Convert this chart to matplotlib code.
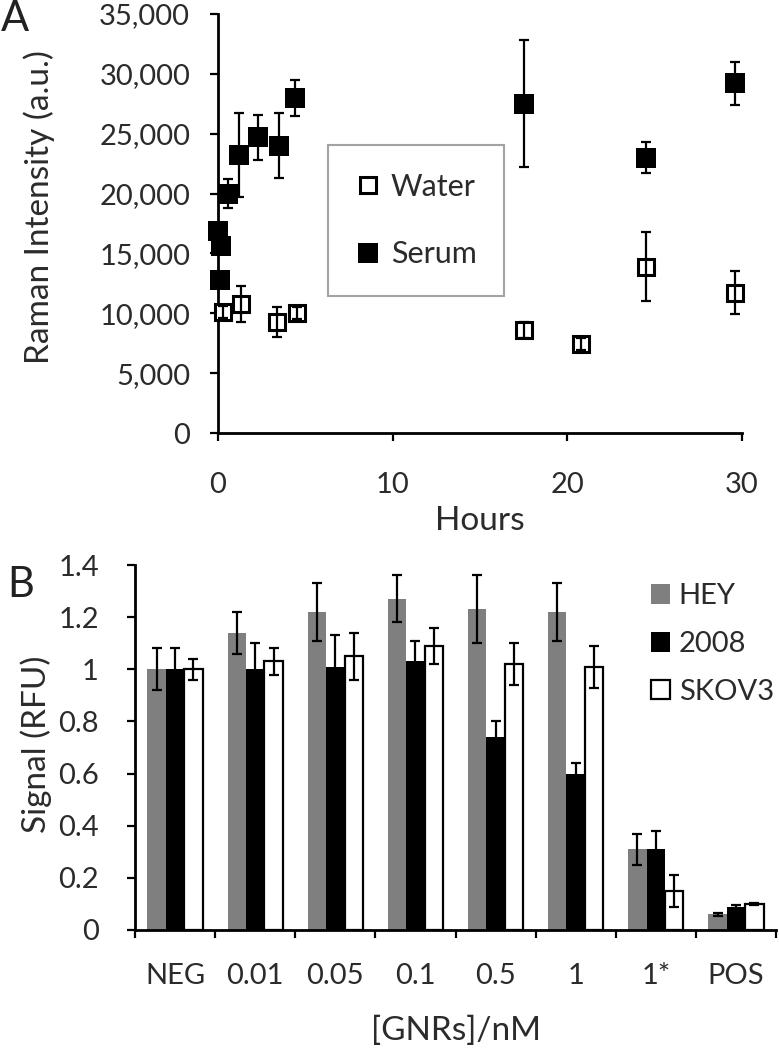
import matplotlib

matplotlib.use("Agg")

import matplotlib.pyplot as plt
import numpy as np
from matplotlib.lines import Line2D
from matplotlib.patches import Patch
from matplotlib.ticker import FuncFormatter, FixedLocator

plt.rcParams["font.family"] = ["Lato", "DejaVu Sans"]

# panel A: Raman intensity over time
serum_hours = [0.0, 0.1, 0.15, 0.6, 1.2, 2.3, 3.5, 4.4, 17.5, 24.5, 29.6]
serum_values = [16900, 12800, 15600, 20000, 23200, 24700, 24000, 28000, 27500, 23000, 29200]
serum_err = [600, 600, 600, 1200, 3500, 1900, 2700, 1500, 5300, 1300, 1800]

water_hours = [0.3, 1.3, 3.4, 4.5, 17.5, 20.8, 24.5, 29.6]
water_values = [10100, 10800, 9300, 10000, 8600, 7400, 13900, 11700]
water_err = [500, 1500, 1250, 500, 700, 500, 2900, 1800]

# panel B: signal per GNR concentration
categories = ["NEG", "0.01", "0.05", "0.1", "0.5", "1", "1*", "POS"]
hey = [1.00, 1.14, 1.22, 1.27, 1.23, 1.22, 0.31, 0.06]
hey_err = [0.08, 0.08, 0.11, 0.09, 0.13, 0.11, 0.06, 0.005]
c2008 = [1.00, 1.00, 1.01, 1.03, 0.74, 0.60, 0.31, 0.09]
c2008_err = [0.08, 0.10, 0.12, 0.08, 0.06, 0.04, 0.07, 0.005]
skov3 = [1.00, 1.03, 1.05, 1.09, 1.02, 1.01, 0.15, 0.10]
skov3_err = [0.04, 0.05, 0.09, 0.07, 0.08, 0.08, 0.06, 0.005]

GRAY = "#7f7f7f"
TEXT = "#2b2b2b"
FS = 21          # tick labels
FS_TITLE = 24    # axis titles
SPINE_W = 2.0


def style_axis(ax):
    for side in ("top", "right"):
        ax.spines[side].set_visible(False)
    for side in ("left", "bottom"):
        ax.spines[side].set_linewidth(SPINE_W)
    ax.tick_params(which="major", direction="out", length=6, width=1.6, labelsize=FS,
                   colors="black", labelcolor=TEXT)


W, H = 779, 1050
fig = plt.figure(figsize=(W / 100, H / 100), dpi=100)


def px_axes(left, top, right, bottom):
    return fig.add_axes([left / W, 1 - bottom / H, (right - left) / W, (bottom - top) / H])


# ---------------- panel A ----------------
ax = px_axes(218, 14, 742, 433)
err_a = dict(fmt="none", ecolor="black", elinewidth=1.6, capsize=3.5, capthick=1.6, zorder=4)
for bars in (ax.errorbar(water_hours, water_values, yerr=water_err, **err_a),
             ax.errorbar(serum_hours, serum_values, yerr=serum_err, **err_a)):
    for art in bars.lines[1] + bars.lines[2]:
        art.set_clip_on(False)
ax.plot(water_hours, water_values, "s", ms=12, mfc="white", mec="black", mew=2.2,
        linestyle="none", zorder=3, clip_on=False)
ax.plot(serum_hours, serum_values, "s", ms=14, mfc="black", mec="black", mew=0,
        linestyle="none", zorder=3, clip_on=False)
ax.set_xlim(0, 30)
ax.set_ylim(0, 35000)
ax.set_xticks([0, 10, 20, 30])
ax.set_yticks(np.arange(0, 35001, 5000))
ax.yaxis.set_major_formatter(FuncFormatter(lambda v, _: f"{int(v):,}"))
style_axis(ax)
ax.tick_params(axis="y", pad=14)
ax.tick_params(axis="x", pad=22)
ax.set_ylabel("Raman Intensity (a.u.)", fontsize=FS_TITLE, color=TEXT)
ax.yaxis.set_label_coords(-0.312, 0.54)
ax.set_xlabel("Hours", fontsize=FS_TITLE, color=TEXT)
ax.xaxis.set_label_coords(0.5, -0.175)

handles_a = [
    Line2D([], [], marker="s", ms=12, mfc="white", mec="black", mew=2.2, linestyle="none"),
    Line2D([], [], marker="s", ms=14, mfc="black", mec="black", mew=0, linestyle="none"),
]
leg = ax.legend(handles_a, ["Water", "Serum"], loc="upper left", bbox_to_anchor=(0.21, 0.687),
                borderaxespad=0, frameon=True, fancybox=False, fontsize=22,
                handlelength=0.8, handletextpad=0.35, labelspacing=1.3, borderpad=0.9,
                labelcolor=TEXT)
leg.get_frame().set_edgecolor("#8c8c8c")
leg.get_frame().set_linewidth(1.5)

# ---------------- panel B ----------------
bx = px_axes(135, 565, 776, 930)
x = np.arange(len(categories))
bw = 0.23
err_b = dict(fmt="none", ecolor="black", elinewidth=1.6, capsize=3.5, capthick=1.6, zorder=4)
bx.bar(x - bw, hey, bw, color=GRAY, zorder=2)
bx.bar(x, c2008, bw, color="black", zorder=2)
bx.bar(x + bw, skov3, bw, color="white", edgecolor="black", linewidth=1.6, zorder=2)
bx.errorbar(x - bw, hey, yerr=hey_err, **err_b)
bx.errorbar(x, c2008, yerr=c2008_err, **err_b)
bx.errorbar(x + bw, skov3, yerr=skov3_err, **err_b)
bx.set_xlim(-0.5, len(categories) - 0.5)
bx.set_ylim(0, 1.4)
bx.set_yticks(np.arange(0, 1.41, 0.2))
bx.yaxis.set_major_formatter(FuncFormatter(lambda v, _: f"{round(v, 1):g}"))
bx.xaxis.set_major_locator(FixedLocator(np.arange(-0.5, len(categories), 1.0)))
bx.xaxis.set_major_formatter(FuncFormatter(lambda v, _: ""))
bx.set_xticks(x, minor=True)
bx.set_xticklabels(categories, minor=True)
style_axis(bx)
bx.tick_params(axis="x", which="minor", length=0, pad=24, labelsize=FS, labelcolor=TEXT)
bx.tick_params(axis="y", pad=20)
bx.set_ylabel("Signal (RFU)", fontsize=FS_TITLE, color=TEXT)
bx.yaxis.set_label_coords(-0.13, 0.51)
bx.set_xlabel("[GNRs]/nM", fontsize=FS_TITLE, color=TEXT)
bx.xaxis.set_label_coords(0.5, -0.235)

handles_b = [
    Patch(facecolor=GRAY, edgecolor="none"),
    Patch(facecolor="black", edgecolor="none"),
    Patch(facecolor="white", edgecolor="black", linewidth=1.6),
]
bx.legend(handles_b, ["HEY", "2008", "SKOV3"], loc="upper left", bbox_to_anchor=(0.805, 0.95),
          borderaxespad=0, frameon=False, fontsize=21, handlelength=0.65, handleheight=0.65,
          handletextpad=0.3, labelspacing=0.75, borderpad=0, labelcolor=TEXT)

fig.text(15 / W, 1 - 19 / H, "A", fontsize=30, ha="center", va="center", color="#222222")
fig.text(21 / W, 1 - 585 / H, "B", fontsize=30, ha="center", va="center", color="#222222")

fig.savefig("out.png", dpi=100)
